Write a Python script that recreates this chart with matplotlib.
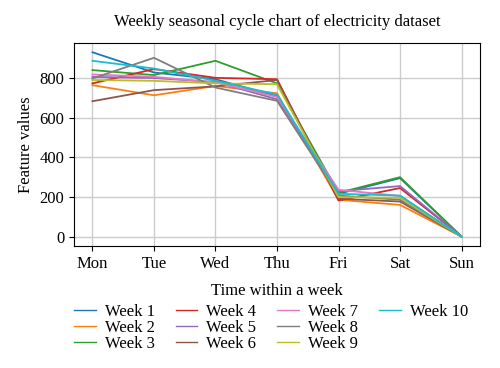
import matplotlib
matplotlib.use('Agg')
import matplotlib.pyplot as plt
from matplotlib.lines import Line2D

days = ['Mon', 'Tue', 'Wed', 'Thu', 'Fri', 'Sat', 'Sun']

week1 = [930, 828, 794, 708, 216, 295, 0]
week2 = [764, 713, 760, 723, 186, 160, 0]
week3 = [840, 815, 887, 773, 221, 300, 0]
week4 = [773, 845, 801, 794, 182, 245, 0]
week5 = [806, 800, 780, 693, 229, 255, 0]
week6 = [683, 739, 758, 790, 191, 177, 0]
week7 = [818, 806, 778, 705, 236, 205, 0]
week8 = [798, 902, 752, 685, 207, 186, 0]
week9 = [790, 786, 773, 769, 199, 196, 0]
week10 = [887, 848, 786, 717, 216, 207, 0]

weeks = [week1, week2, week3, week4, week5, week6, week7, week8, week9, week10]
labels = ['Week %d' % (i + 1) for i in range(len(weeks))]

plt.rcParams['font.family'] = ['Liberation Serif', 'DejaVu Serif']

fig = plt.figure(figsize=(5, 3.68), dpi=100)
ax = fig.add_axes([0.148, 0.332, 0.812, 0.551])
handles = []
for vals, lab in zip(weeks, labels):
    line, = ax.plot(days, vals, linewidth=1.3, label=lab)
    handles.append(Line2D([], [], color=line.get_color(), linewidth=1.0))

ax.grid(True, color='#cccccc', linewidth=1)
ax.set_axisbelow(True)
ax.set_yticks([0, 200, 400, 600, 800])
ax.tick_params(labelsize=12)
ax.set_title('Weekly seasonal cycle chart of electricity dataset', fontsize=12, pad=12)
ax.set_xlabel('Time within a week', fontsize=12, labelpad=8)
ax.set_ylabel('Feature values', fontsize=12)

# pad the last column with two empty entries so columns read 3/3/3/1
blank = Line2D([], [], color='none')
leg_handles = handles + [blank, blank]
leg_labels = labels + ['', '']
fig.legend(leg_handles, leg_labels, loc='upper left', bbox_to_anchor=(0.148, 0.174),
           ncol=4, frameon=False, fontsize=12, handlelength=1.3, columnspacing=1.25,
           labelspacing=0.0, handletextpad=0.55, borderpad=0, borderaxespad=0)

fig.savefig('out.png', dpi=100)
